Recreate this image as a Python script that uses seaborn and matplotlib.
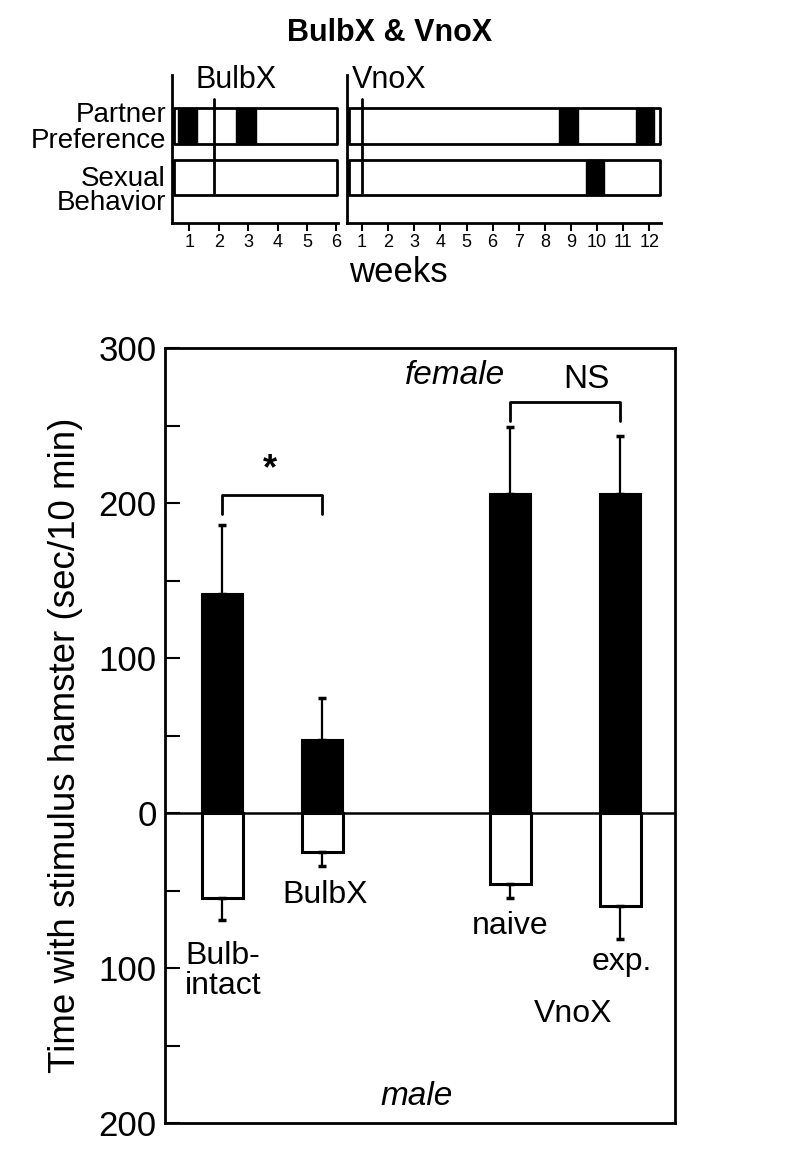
import numpy as np
import pandas as pd
import matplotlib
matplotlib.use("Agg")
import matplotlib.pyplot as plt
import seaborn as sns

sns.set_theme(style="white")
plt.rcParams['font.family'] = ['Liberation Sans', 'DejaVu Sans']
plt.rcParams['text.color'] = 'black'
plt.rcParams['axes.labelcolor'] = 'black'
plt.rcParams['xtick.color'] = 'black'
plt.rcParams['ytick.color'] = 'black'

# ---------------- data ----------------
groups = ["Bulb-intact", "BulbX", "naive", "exp."]
group_pos = [0.57, 1.57, 3.45, 4.55]
female_mean = [141, 47, 206, 206]
female_err = [45, 27, 43, 37]
male_mean = [55, 25, 46, 60]
male_err = [14, 9, 9, 21]
group_labels = ["Bulb-\nintact", "BulbX", "naive", "exp."]
ytick_vals = [300, 200, 100, 0, -100, -200]
ytick_labels = ["300", "200", "100", "0", "100", "200"]

# timeline data (weeks)
bulbx_pp_black = [(0.6, 0.65), (2.6, 0.65)]
bulbx_sb_black = []
bulbx_surgery = 1.85
vnox_pp_black = [(8.54, 0.73), (11.5, 0.7)]
vnox_sb_black = [(9.58, 0.69)]
vnox_surgery = 1.0
bulbx_weeks = [1, 2, 3, 4, 5, 6]
vnox_weeks = list(range(1, 13))

W, H = 800, 1166
fig = plt.figure(figsize=(W / 100, H / 100), dpi=100)


def fx(px):
    return px / W


def fy(py):
    return 1 - py / H


# ---------------- main bar chart ----------------
ax = fig.add_axes([fx(165), fy(1123), fx(675 - 165), (1123 - 348) / H])
df_f = pd.DataFrame({"x": group_pos, "y": female_mean})
df_m = pd.DataFrame({"x": group_pos, "y": [-v for v in male_mean]})
sns.barplot(data=df_f, x="x", y="y", native_scale=True, width=0.41,
            color="black", edgecolor="black", linewidth=1.5, errorbar=None,
            saturation=1, ax=ax)
sns.barplot(data=df_m, x="x", y="y", native_scale=True, width=0.41,
            color="white", edgecolor="black", linewidth=2.2, errorbar=None,
            saturation=1, ax=ax)
ax.errorbar(group_pos, female_mean, yerr=[np.zeros(4), female_err], fmt="none",
            ecolor="black", elinewidth=1.6, capsize=3, capthick=2.5)
ax.errorbar(group_pos, [-v for v in male_mean], yerr=[male_err, np.zeros(4)],
            fmt="none", ecolor="black", elinewidth=1.6, capsize=3, capthick=2.5)
ax.axhline(0, color="black", lw=1.8, zorder=5)

ax.set_xlim(0, 5.1)
ax.set_ylim(-200, 300)
ax.set_xticks([])
ax.set_xlabel("")
ax.set_yticks(ytick_vals)
ax.set_yticklabels(ytick_labels, fontsize=25)
ax.set_yticks([250, 150, 50, -50, -150], minor=True)
ax.tick_params(axis="y", which="both", direction="in", length=11, width=1.5,
               left=True, pad=6, colors="black")
for s in ax.spines.values():
    s.set_color("black")
    s.set_linewidth(2)
ax.set_ylabel("Time with stimulus hamster (sec/10 min)", fontsize=26.5,
              color="black")
ax.yaxis.set_label_coords(-0.16, 0.487)

# annotations
ax.plot([group_pos[0], group_pos[0], group_pos[1], group_pos[1]],
        [193, 205, 205, 193], color="black", lw=2)
ax.text((group_pos[0] + group_pos[1]) / 2 - 0.02, 210, "*", ha="center",
        va="bottom", fontsize=26, fontweight="bold")
ax.plot([group_pos[2], group_pos[2], group_pos[3], group_pos[3]],
        [253, 265, 265, 253], color="black", lw=2)
ax.text((group_pos[2] + group_pos[3]) / 2 + 0.21, 270, "NS", ha="center",
        va="bottom", fontsize=24)
ax.text(2.9, 282, "female", ha="center", va="center", fontsize=24,
        style="italic")
ax.text(2.52, -183, "male", ha="center", va="center", fontsize=24,
        style="italic")
label_y = [-102, -53, -73, -96]
label_x = [0.58, 1.6, 3.45, 4.57]
for lx, ly, t in zip(label_x, label_y, group_labels):
    ax.text(lx, ly, t, ha="center", va="center", fontsize=23,
            linespacing=1.0)
ax.text(4.08, -130, "VnoX", ha="center", va="center", fontsize=23)

# ---------------- timeline panels ----------------
fig.text(fx(390), fy(33), "BulbX & VnoX", ha="center", va="center",
         fontsize=22, fontweight="bold")


def timeline(left_px, right_px, w0_px, wpx, weeks, pp_black, sb_black,
             surg, label, label_px):
    a = fig.add_axes([fx(left_px), fy(223), fx(right_px - left_px),
                      (223 - 75) / H])
    a.set_xlim((left_px - w0_px) / wpx, (right_px - w0_px) / wpx)
    a.set_ylim(0, 148)
    for s in ["top", "right"]:
        a.spines[s].set_visible(False)
    for s in ["left", "bottom"]:
        a.spines[s].set_color("black")
        a.spines[s].set_linewidth(2)
    a.set_facecolor("white")
    x0, x1 = a.get_xlim()
    bx0 = x0 + 2 / wpx
    bx1 = x1 - 1 / wpx
    # boxes
    a.broken_barh([(bx0, bx1 - bx0)], (79, 36), facecolors="white",
                  edgecolors="black", linewidth=2)
    a.broken_barh([(bx0, bx1 - bx0)], (28, 35), facecolors="white",
                  edgecolors="black", linewidth=2)
    if pp_black:
        a.broken_barh(pp_black, (79, 36), facecolors="black",
                      edgecolors="black", linewidth=1)
    if sb_black:
        a.broken_barh(sb_black, (28, 35), facecolors="black",
                      edgecolors="black", linewidth=1)
    a.plot([surg, surg], [30, 124], color="black", lw=2)
    a.set_xticks(weeks)
    a.set_xticklabels([str(w) for w in weeks], fontsize=13)
    a.set_yticks([])
    a.tick_params(axis="x", direction="out", length=6, width=1.5, pad=2,
                  bottom=True, colors="black")
    a.text((label_px - w0_px) / wpx, 143, label, ha="left", va="center",
           fontsize=22)
    return a


timeline(172, 338, 160, 29.4, bulbx_weeks, bulbx_pp_black, bulbx_sb_black,
         bulbx_surgery, "BulbX", 195)
timeline(347, 661, 336, 26.1, vnox_weeks, vnox_pp_black, vnox_sb_black,
         vnox_surgery, "VnoX", 352)

fig.text(fx(398), fy(273), "weeks", ha="center", va="center", fontsize=25)
fig.text(fx(166), fy(128), "Partner\nPreference", ha="right", va="center",
         fontsize=20, linespacing=0.95)
fig.text(fx(166), fy(191), "Sexual\nBehavior", ha="right", va="center",
         fontsize=20, linespacing=0.95)

fig.savefig("out.png", dpi=100, facecolor="white")
